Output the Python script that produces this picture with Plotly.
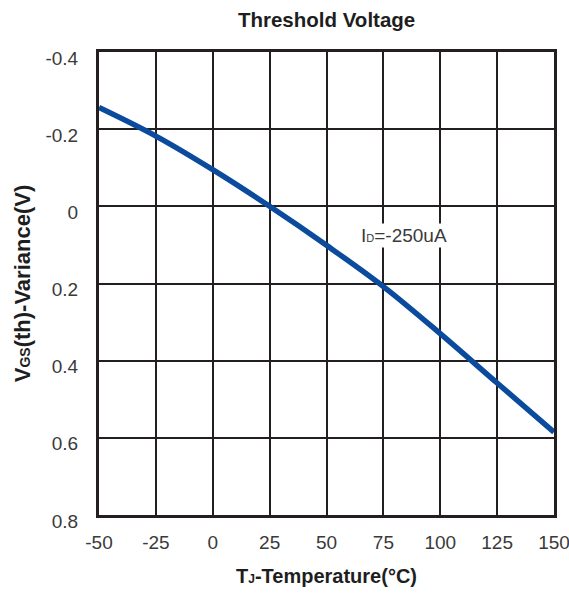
import plotly.graph_objects as go

temps = [-50, -25, 0, 25, 50, 75, 100, 125, 150]
vgs_var = [-0.256, -0.182, -0.095, 0.0, 0.101, 0.208, 0.330, 0.458, 0.585]
x_ticks = [-50, -25, 0, 25, 50, 75, 100, 125, 150]
x_tick_text = ["-50", "-25", "0", "25", "50", "75", "100", "125", "150"]
y_ticks = [-0.4, -0.2, 0, 0.2, 0.4, 0.6, 0.8]
y_tick_text = ["-0.4", "-0.2", "0", "0.2", "0.4", "0.6", "0.8"]

FONT = "Liberation Sans, Arial, sans-serif"
GRID = "#231f20"

fig = go.Figure()
fig.add_trace(go.Scatter(
    x=temps, y=vgs_var, mode="lines",
    line=dict(color="#0b4b9e", width=5.5, shape="spline", smoothing=1),
    showlegend=False, hoverinfo="skip",
))

fig.add_annotation(
    x=84, y=0.075, xref="x", yref="y",
    text="I<span style='font-size:11px'>D</span>=-250uA",
    showarrow=False, bgcolor="white",
    font=dict(family=FONT, size=19, color="#3a3a3a"),
    xanchor="center", yanchor="middle",
)

fig.update_layout(
    width=569, height=599,
    margin=dict(l=99, r=15, t=52, b=84, autoexpand=False),
    paper_bgcolor="white", plot_bgcolor="white",
    title=dict(
        text="<b>Threshold Voltage</b>",
        x=0.574, xanchor="center", y=0.967, yanchor="middle",
        font=dict(family=FONT, size=20.5, color="#1e1e1e"),
    ),
    font=dict(family=FONT, color="#333333"),
)

fig.update_xaxes(
    range=[-50, 150], tickvals=x_ticks, ticktext=x_tick_text,
    showgrid=True, gridcolor=GRID, gridwidth=2,
    showline=True, linecolor=GRID, linewidth=3, mirror=True,
    ticks="", tickfont=dict(family=FONT, size=19, color="#3a3a3a"),
    ticklabelstandoff=8, ticklabeloverflow="allow", automargin=False,
    zeroline=False,
    title=dict(text="<b>T<span style='font-size:12px'>J</span>-Temperature(°C)</b>",
               font=dict(family=FONT, size=20, color="#1e1e1e"), standoff=18),
)
fig.update_yaxes(
    range=[0.8, -0.4], tickvals=y_ticks, ticktext=y_tick_text,
    showgrid=True, gridcolor=GRID, gridwidth=2,
    showline=True, linecolor=GRID, linewidth=3, mirror=True,
    ticks="", tickfont=dict(family=FONT, size=19, color="#3a3a3a"),
    ticklabelstandoff=14, ticklabelshift=-6, ticklabeloverflow="allow", automargin=False,
    zeroline=False,
    title=dict(text="<b>V<span style='font-size:14px'>GS</span>(th)-Variance(V)</b>",
               font=dict(family=FONT, size=22, color="#1e1e1e"), standoff=9),
)

fig.write_html("out.html")
